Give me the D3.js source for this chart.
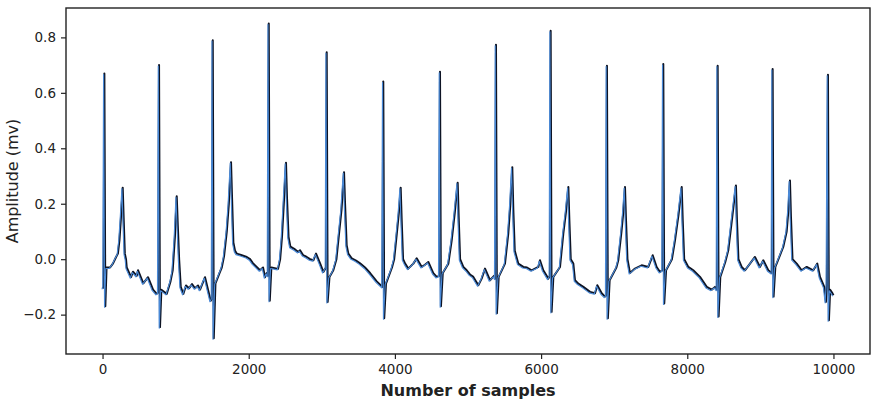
<!DOCTYPE html>
<html>
<head>
<meta charset="utf-8">
<script src="https://cdn.jsdelivr.net/npm/d3@7"></script>
<style>
  body { margin: 0; background: #fff; }
  svg { display: block; }
  .tick text { font-family: "DejaVu Sans", sans-serif; font-size: 13.5px; fill: #222; }
</style>
</head>
<body>
<svg id="chart" width="874" height="404"></svg>
<script>
/** ECG trace: sample index and amplitude (mV), one row per beat **/
var samples = [
    0, 14, 25, 38, 55, 103, 144, 185, 210, 232, 252, 276, 290, 305, 321, 331, 390, 417, 468, 486, 558, 622, 691, 741, 762,
    773, 786, 805, 878, 930, 960, 990, 1015, 1030, 1048, 1070, 1105, 1142, 1183, 1224, 1265, 1306, 1334, 1402, 1443, 1480, 1498,
    1508, 1522, 1545, 1600, 1631, 1662, 1700, 1728, 1758, 1772, 1790, 1813, 1836, 1895, 1973, 2018, 2059, 2155, 2196, 2223, 2246, 2264,
    2274, 2288, 2310, 2401, 2430, 2455, 2480, 2510, 2524, 2545, 2570, 2634, 2679, 2702, 2743, 2793, 2839, 2884, 2921, 2976, 3021, 3057,
    3067, 3080, 3105, 3157, 3200, 3226, 3270, 3304, 3318, 3340, 3363, 3409, 3468, 3523, 3591, 3660, 3751, 3830,
    3841, 3854, 3878, 3960, 3990, 4029, 4055, 4079, 4093, 4112, 4140, 4183, 4252, 4298, 4367, 4412, 4457, 4525, 4572, 4607,
    4617, 4630, 4655, 4731, 4777, 4820, 4859, 4873, 4892, 4936, 4982, 5027, 5073, 5141, 5187, 5233, 5301, 5356, 5373,
    5383, 5396, 5420, 5506, 5551, 5580, 5606, 5620, 5640, 5688, 5757, 5807, 5871, 5962, 5985, 6030, 6099, 6121,
    6131, 6144, 6168, 6259, 6304, 6340, 6373, 6387, 6406, 6441, 6464, 6509, 6578, 6670, 6738, 6769, 6829, 6874, 6891,
    6901, 6914, 6938, 7030, 7056, 7100, 7125, 7148, 7162, 7182, 7216, 7285, 7376, 7467, 7527, 7581, 7627, 7662,
    7672, 7685, 7710, 7790, 7832, 7880, 7924, 7938, 7958, 8014, 8082, 8174, 8266, 8334, 8379, 8406,
    8416, 8429, 8452, 8520, 8561, 8610, 8666, 8680, 8700, 8744, 8789, 8858, 8926, 8994, 9040, 9108, 9158,
    9168, 9181, 9205, 9313, 9360, 9385, 9405, 9419, 9440, 9497, 9565, 9634, 9724, 9779, 9816, 9874, 9897, 9910,
    9925, 9938, 9955, 9980, 10000];

var amplitude = [
    -0.105, -0.10, 0.67, -0.17, -0.03, -0.03, -0.015, 0.008, 0.02, 0.07, 0.15, 0.258, 0.14, 0.02, 0.0, -0.03, -0.065, -0.045, -0.06, -0.04, -0.087, -0.065, -0.11, -0.125, -0.12,
    0.70, -0.245, -0.11, -0.125, -0.08, -0.04, 0.08, 0.227, 0.12, 0.0, -0.10, -0.125, -0.095, -0.105, -0.09, -0.105, -0.095, -0.11, -0.065, -0.11, -0.15, -0.14,
    0.79, -0.285, -0.087, -0.05, -0.03, 0.01, 0.10, 0.20, 0.35, 0.22, 0.06, 0.03, 0.02, 0.015, 0.008, 0.0, -0.015, -0.04, -0.03, -0.065, -0.05, -0.06,
    0.85, -0.15, -0.03, -0.035, 0.0, 0.08, 0.20, 0.348, 0.22, 0.08, 0.045, 0.035, 0.026, 0.032, 0.015, 0.008, 0.0, -0.004, 0.02, -0.015, -0.046, -0.03,
    0.746, -0.154, -0.064, -0.04, 0.0, 0.068, 0.18, 0.314, 0.20, 0.05, 0.02, 0.003, -0.005, -0.015, -0.03, -0.05, -0.08, -0.10,
    0.641, -0.213, -0.088, -0.03, 0.0, 0.10, 0.17, 0.258, 0.14, 0.0, -0.016, -0.034, -0.016, 0.003, -0.028, -0.02, -0.01, -0.05, -0.064, -0.06,
    0.676, -0.17, -0.05, -0.016, 0.068, 0.17, 0.276, 0.15, 0.0, -0.028, -0.04, -0.055, -0.064, -0.094, -0.07, -0.034, -0.076, -0.06, -0.07,
    0.773, -0.195, -0.064, -0.016, 0.092, 0.20, 0.332, 0.18, 0.03, -0.016, -0.028, -0.03, -0.04, -0.028, -0.004, -0.04, -0.07, -0.06,
    0.824, -0.19, -0.064, -0.028, 0.092, 0.17, 0.26, 0.14, 0.0, -0.016, -0.076, -0.088, -0.10, -0.118, -0.123, -0.094, -0.123, -0.135, -0.13,
    0.698, -0.213, -0.076, -0.03, -0.004, 0.10, 0.17, 0.26, 0.14, 0.0, -0.05, -0.034, -0.022, -0.028, 0.014, -0.028, -0.046, -0.04,
    0.704, -0.16, -0.04, 0.0, 0.068, 0.16, 0.26, 0.14, 0.0, -0.028, -0.04, -0.064, -0.10, -0.11, -0.10, -0.11,
    0.698, -0.207, -0.064, -0.01, 0.032, 0.14, 0.266, 0.14, 0.0, -0.028, -0.04, -0.016, 0.008, -0.028, -0.004, -0.04, -0.05,
    0.686, -0.135, -0.028, 0.044, 0.10, 0.18, 0.284, 0.15, 0.0, -0.016, -0.04, -0.028, -0.04, -0.016, -0.064, -0.10, -0.154, -0.09,
    0.665, -0.22, -0.11, -0.12, -0.13];

var xTicks = [0, 2000, 4000, 6000, 8000, 10000];
var yTicks = [-0.2, 0.0, 0.2, 0.4, 0.6, 0.8];

var margin = {top: 8, right: 4, bottom: 50, left: 66};
var width = 874 - margin.left - margin.right,
    height = 404 - margin.top - margin.bottom;

var svg = d3.select("#chart");
var g = svg.append("g").attr("transform", "translate(" + margin.left + "," + margin.top + ")");

/** Scale linear of X & Y axis (5% padding round the data, like matplotlib) **/
var x = d3.scaleLinear().domain([-500, 10500]).range([0, width]);
var y = d3.scaleLinear().domain([-0.342, 0.906]).range([height, 0]);

var points = samples.map(function (s, i) { return [s, amplitude[i]]; });

var line = d3.line()
    .x(function (d) { return x(d[0]); })
    .y(function (d) { return y(d[1]); });

g.append("path")
    .datum(points)
    .attr("d", line)
    .attr("fill", "none")
    .attr("stroke", "#0e1424")
    .attr("stroke-width", 2)
    .attr("stroke-linejoin", "round");

/** blue trace sits just under the black one **/
g.append("path")
    .datum(points)
    .attr("d", line)
    .attr("fill", "none")
    .attr("stroke", "#4a8ad8")
    .attr("stroke-width", 1.1)
    .attr("stroke-linejoin", "round")
    .attr("transform", "translate(-0.8,1)");

/** axes **/
var xAxis = g.append("g")
    .attr("transform", "translate(0," + height + ")")
    .call(d3.axisBottom(x).tickValues(xTicks).tickSize(5).tickPadding(5).tickFormat(d3.format("d")));
var yAxis = g.append("g")
    .call(d3.axisLeft(y).tickValues(yTicks).tickSize(5).tickPadding(5).tickFormat(d3.format(".1f")));
[xAxis, yAxis].forEach(function (a) {
    a.select(".domain").remove();
    a.selectAll(".tick line").attr("stroke", "#222").attr("stroke-width", 1.2);
});

/** frame **/
g.append("rect")
    .attr("width", width).attr("height", height)
    .attr("fill", "none").attr("stroke", "#222").attr("stroke-width", 1.4);

/** axis labels **/
svg.append("text")
    .attr("x", margin.left + width / 2).attr("y", 396)
    .attr("text-anchor", "middle")
    .style("font-family", "DejaVu Sans, sans-serif").style("font-size", "16px").style("font-weight", 700)
    .style("fill", "#222")
    .text("Number of samples");

svg.append("text")
    .attr("transform", "translate(18," + (margin.top + height / 2) + ") rotate(-90)")
    .attr("text-anchor", "middle")
    .style("font-family", "DejaVu Sans, sans-serif").style("font-size", "16px")
    .style("fill", "#222")
    .text("Amplitude (mv)");
</script>
</body>
</html>
